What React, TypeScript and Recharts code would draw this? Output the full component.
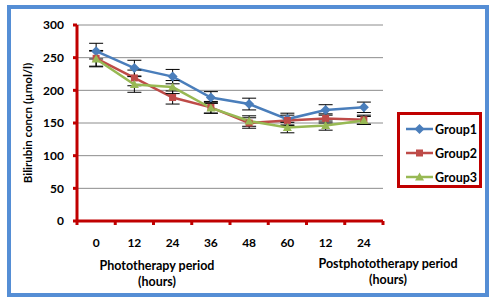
import { LineChart, Line, XAxis, YAxis, CartesianGrid, ErrorBar } from 'recharts'

// x-axis labels (hours), first 6 = phototherapy, last 2 = post phototherapy
const hours = ['0', '12', '24', '36', '48', '60', '12', '24']
const yTicks = [0, 50, 100, 150, 200, 250, 300]

const group1 = [260, 234, 221, 189, 179, 156, 170, 174]
const group2 = [249, 219, 189, 174, 150, 154, 157, 155]
const group3 = [248, 209, 205, 173, 153, 143, 146, 154]

const group1Err = [12, 12, 11, 9, 9, 9, 8, 8]
const group2Err = [12, 12, 10, 9, 8, 8, 7, 7]
const group3Err = [12, 12, 10, 8, 8, 8, 7, 6]

const data = hours.map((label, i) => ({
  idx: i,
  label,
  g1: group1[i],
  g2: group2[i],
  g3: group3[i],
  e1: group1Err[i],
  e2: group2Err[i],
  e3: group3Err[i],
}))

// label ticks on integers, boundary ticks on the halves
const xTicks: number[] = []
for (let i = -0.5; i <= hours.length - 0.5; i += 0.5) xTicks.push(i)

const RED = '#C00000'
const FONT = "Lato, 'Open Sans', sans-serif"

const series = [
  { key: 'g1', err: 'e1', name: 'Group1', color: '#4A7EBB', shape: 'diamond' },
  { key: 'g2', err: 'e2', name: 'Group2', color: '#BE4B48', shape: 'square' },
  { key: 'g3', err: 'e3', name: 'Group3', color: '#98B954', shape: 'triangle' },
]

function Marker({ cx, cy, color, shape }: { cx: number; cy: number; color: string; shape: string }) {
  if (shape === 'diamond')
    return <path d={`M${cx},${cy - 5}L${cx + 5},${cy}L${cx},${cy + 5}L${cx - 5},${cy}Z`} fill={color} />
  if (shape === 'square') return <rect x={cx - 3.5} y={cy - 3.5} width={7} height={7} fill={color} />
  return <path d={`M${cx},${cy - 4.5}L${cx + 4.5},${cy + 3.5}L${cx - 4.5},${cy + 3.5}Z`} fill={color} />
}

function XTick(props: any) {
  const { x, y, payload } = props
  const v = payload.value as number
  if (Number.isInteger(v)) {
    return (
      <text x={x} y={y + 25.5} textAnchor="middle" fontSize={12} fontWeight="bold" fill="#000" fontFamily={FONT}>
        {hours[v]}
      </text>
    )
  }
  return <line x1={x} x2={x} y1={y} y2={y + 4} stroke={RED} strokeWidth={3} />
}

export default function App() {
  return (
    <div style={{ position: 'absolute', left: 0, top: 0, width: 494, height: 300, background: '#fff', fontFamily: FONT }}>
      <div
        style={{
          position: 'absolute',
          left: 7,
          top: 5,
          width: 482,
          height: 292,
          boxSizing: 'border-box',
          border: '4px solid #558ED5',
        }}
      />
      <div style={{ position: 'absolute', left: 0, top: 0 }}>
        <LineChart width={494} height={300} data={data} margin={{ top: 25, right: 111, bottom: 49, left: 0 }}>
          <CartesianGrid vertical={false} stroke="#8C8C8C" strokeWidth={1} />
          <XAxis
            dataKey="idx"
            type="number"
            domain={[-0.5, hours.length - 0.5]}
            ticks={xTicks}
            interval={0}
            height={30}
            tickSize={0}
            tickMargin={0}
            tickLine={false}
            axisLine={{ stroke: RED, strokeWidth: 3 }}
            tick={<XTick />}
          />
          <YAxis
            width={77}
            domain={[0, 300]}
            ticks={yTicks}
            interval={0}
            tickSize={4}
            tickMargin={9}
            axisLine={{ stroke: RED, strokeWidth: 3 }}
            tickLine={{ stroke: RED, strokeWidth: 3 }}
            tick={{ fontSize: 12, fontWeight: 'bold', fill: '#000', fontFamily: FONT }}
          />
          {series.map((s) => (
            <Line
              key={s.key}
              dataKey={s.key}
              stroke={s.color}
              strokeWidth={2.5}
              isAnimationActive={false}
              dot={(p: any) => <Marker key={`${s.key}-${p.index}`} cx={p.cx} cy={p.cy} color={s.color} shape={s.shape} />}
              activeDot={false}
            >
              <ErrorBar dataKey={s.err} width={7} stroke="#000" strokeWidth={1} direction="y" isAnimationActive={false} />
            </Line>
          ))}
        </LineChart>
      </div>
      <svg width={494} height={300} style={{ position: 'absolute', left: 0, top: 0, pointerEvents: 'none' }}>
        <g fontFamily={FONT} fontWeight="bold" fontSize={12.5} fill="#000">
          <text transform="translate(32,123) rotate(-90)" textAnchor="middle" fontSize={11.5}>
            Bilirubin concn (µmol/l)
          </text>
          <text x={157} y={270} textAnchor="middle">Phototherapy period</text>
          <text x={157} y={285.5} textAnchor="middle">(hours)</text>
          <text x={388} y={268} textAnchor="middle">Postphototherapy period</text>
          <text x={388} y={283.5} textAnchor="middle">(hours)</text>
        </g>
      </svg>
      <div
        style={{
          position: 'absolute',
          left: 397,
          top: 112,
          width: 85,
          height: 76,
          boxSizing: 'border-box',
          border: `3px solid ${RED}`,
          background: '#fff',
        }}
      >
        {series.map((s, i) => (
          <div key={s.key} style={{ position: 'absolute', left: 5, top: 7 + i * 24, height: 14, display: 'flex', alignItems: 'center' }}>
            <svg width={29} height={12}>
              <line x1={1} x2={28} y1={6} y2={6} stroke={s.color} strokeWidth={2.5} />
              <Marker cx={14.5} cy={6} color={s.color} shape={s.shape} />
            </svg>
            <span style={{ fontSize: 12.5, fontWeight: 'bold', color: '#000', marginLeft: 1 }}>{s.name}</span>
          </div>
        ))}
      </div>
    </div>
  )
}
